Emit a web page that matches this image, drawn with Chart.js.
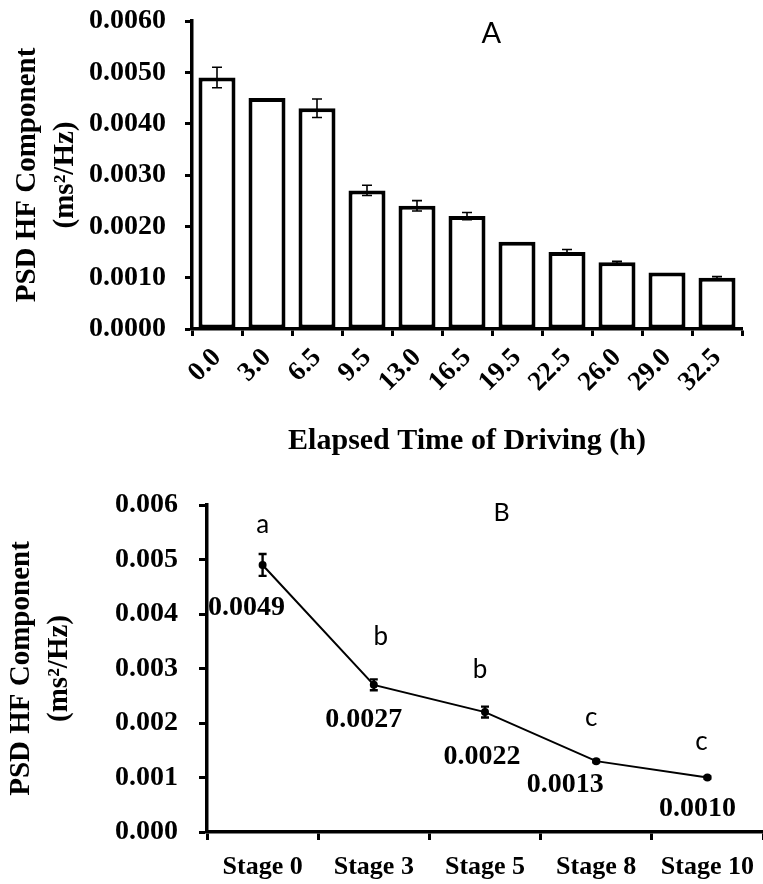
<!DOCTYPE html>
<html>
<head>
<meta charset="utf-8">
<script src="https://cdn.jsdelivr.net/npm/chart.js@4"></script>
<style>
  body { margin: 0; background: #fff; overflow: hidden; }
  #chartA { position: absolute; left: 0; top: 0; }
  #chartB { position: absolute; left: 0; top: 470px; }
</style>
</head>
<body>
<canvas id="chartA" width="763" height="470"></canvas>
<canvas id="chartB" width="763" height="414"></canvas>
<script>
// panel A: elapsed driving time (h)
const hoursA = ['0.0', '3.0', '6.5', '9.5', '13.0', '16.5', '19.5', '22.5', '26.0', '29.0', '32.5'];
const psdA = [0.0049, 0.0045, 0.0043, 0.0027, 0.0024, 0.0022, 0.0017, 0.0015, 0.0013, 0.0011, 0.0010];
const errA = [0.0002, 0, 0.00018, 0.0001, 0.0001, 0.00007, 0, 0.00005, 0.00002, 0, 0.00002];

// panel B: driving stages
const stagesB = ['Stage 0', 'Stage 3', 'Stage 5', 'Stage 8', 'Stage 10'];
const psdB = [0.0049, 0.0027, 0.0022, 0.0013, 0.0010];
const errB = [0.0002, 0.0001, 0.0001, 0.00002, 0.00002];
const groupsB = ['a', 'b', 'b', 'c', 'c'];

const SERIF = '"Liberation Serif", "Times New Roman", serif';
const SANS = 'Lato, "Open Sans", sans-serif';

// fixed axis sizes so the plot area lands where the original one is
function fixY(width) {
    return s => { s.width = width; s.paddingTop = 0; s.paddingBottom = 0; };
}
function fixX(height) {
    return s => { s.height = height; s.paddingLeft = 0; s.paddingRight = 0; };
}

// error bars drawn from the dataset values
const errorBars = {
    id: 'errorBars',
    afterDatasetsDraw(chart, args, opts) {
        const ctx = chart.ctx;
        const y = chart.scales.y;
        const meta = chart.getDatasetMeta(0);
        const values = chart.data.datasets[0].data;
        ctx.save();
        ctx.strokeStyle = '#000';
        ctx.lineWidth = opts.lineWidth;
        opts.errors.forEach((e, i) => {
            if (!e) return;
            const px = meta.data[i].x;
            const top = y.getPixelForValue(values[i] + e);
            const bot = y.getPixelForValue(values[i] - e);
            ctx.beginPath();
            ctx.moveTo(px, top); ctx.lineTo(px, bot);
            ctx.moveTo(px - opts.cap, top); ctx.lineTo(px + opts.cap, top);
            ctx.moveTo(px - opts.cap, bot); ctx.lineTo(px + opts.cap, bot);
            ctx.stroke();
        });
        ctx.restore();
    }
};

// panel letter (A / B)
const panelLetter = {
    id: 'panelLetter',
    afterDraw(chart, args, opts) {
        const { ctx, chartArea } = chart;
        ctx.save();
        ctx.fillStyle = '#000';
        ctx.font = opts.font;
        ctx.textAlign = 'center';
        ctx.textBaseline = 'middle';
        ctx.fillText(opts.text, chartArea.left + chartArea.width * opts.fx, chartArea.top + opts.dy);
        ctx.restore();
    }
};

// group letters above and value labels below points of panel B
const pointNotes = {
    id: 'pointNotes',
    afterDatasetsDraw(chart, args, opts) {
        const ctx = chart.ctx;
        const meta = chart.getDatasetMeta(0);
        const values = chart.data.datasets[0].data;
        ctx.save();
        ctx.fillStyle = '#000';
        ctx.textAlign = 'center';
        ctx.textBaseline = 'middle';
        meta.data.forEach((pt, i) => {
            ctx.font = opts.letterFont;
            ctx.fillText(opts.letters[i], pt.x + opts.letterOff[i][0], pt.y + opts.letterOff[i][1]);
            ctx.font = opts.valueFont;
            ctx.fillText(values[i].toFixed(4), pt.x + opts.valueOff[i][0], pt.y + opts.valueOff[i][1]);
        });
        ctx.restore();
    }
};

Chart.defaults.color = '#000';

// ---------- chart A ----------
new Chart(document.getElementById('chartA'), {
    type: 'bar',
    data: {
        labels: hoursA,
        datasets: [{
            data: psdA,
            backgroundColor: '#fff',
            borderColor: '#000',
            borderWidth: 4,
            borderSkipped: false,
            barPercentage: 0.74,
            categoryPercentage: 1
        }]
    },
    options: {
        responsive: false,
        animation: false,
        layout: { autoPadding: false, padding: { top: 21, right: 21, bottom: 0, left: 0 } },
        plugins: {
            legend: { display: false },
            tooltip: { enabled: false },
            errorBars: { errors: errA, cap: 5, lineWidth: 1.6 },
            panelLetter: { text: 'A', fx: 0.544, dy: 13, font: '29px ' + SANS }
        },
        scales: {
            x: {
                afterFit: fixX(141),
                border: { color: '#000', width: 3.5 },
                grid: { offset: true, drawOnChartArea: false, tickLength: 7, tickColor: '#000', tickWidth: 3 },
                ticks: {
                    autoSkip: false,
                    maxRotation: 45,
                    minRotation: 45,
                    padding: 6,
                    font: { family: SERIF, size: 27, weight: 'bold' }
                },
                title: {
                    display: true,
                    text: 'Elapsed Time of Driving (h)',
                    font: { family: SERIF, size: 30, weight: 'bold' },
                    padding: { top: 0, bottom: 11 }
                }
            },
            y: {
                min: 0,
                max: 0.006,
                afterFit: fixY(192),
                border: { color: '#000', width: 3.5 },
                grid: { drawOnChartArea: false, tickLength: 7, tickColor: '#000', tickWidth: 3 },
                ticks: {
                    stepSize: 0.001,
                    padding: 19,
                    font: { family: SERIF, size: 28, weight: 'bold' },
                    callback: v => v.toFixed(4)
                },
                title: {
                    display: true,
                    text: ['PSD HF Component', '(ms\u00B2/Hz)'],
                    font: { family: SERIF, size: 29, weight: 'bold', lineHeight: 1.3 },
                    padding: { top: 9, bottom: 0 }
                }
            }
        }
    },
    plugins: [errorBars, panelLetter]
});

// ---------- chart B ----------
new Chart(document.getElementById('chartB'), {
    type: 'line',
    data: {
        labels: stagesB,
        datasets: [{
            data: psdB,
            borderColor: '#000',
            borderWidth: 2,
            pointRadius: 3,
            pointBackgroundColor: '#000',
            pointBorderColor: '#000',
            tension: 0
        }]
    },
    options: {
        responsive: false,
        animation: false,
        layout: { autoPadding: false, padding: { top: 35, right: 0, bottom: 0, left: 0 } },
        plugins: {
            legend: { display: false },
            tooltip: { enabled: false },
            errorBars: { errors: errB, cap: 4, lineWidth: 2.4 },
            panelLetter: { text: 'B', fx: 0.53, dy: 8, font: '25px ' + SANS },
            pointNotes: {
                letters: groupsB,
                letterFont: '26px ' + SANS,
                valueFont: 'bold 28px ' + SERIF,
                letterOff: [[0, -40], [7, -48], [-5, -42], [-5, -44], [-6, -36]],
                valueOff: [[-16, 43], [-10, 35], [-3, 45], [-31, 24], [-10, 31]]
            }
        },
        scales: {
            x: {
                offset: true,
                afterFit: fixX(52),
                border: { color: '#000', width: 3.5 },
                grid: { offset: true, drawOnChartArea: false, tickLength: 8, tickColor: '#000', tickWidth: 3 },
                ticks: { maxRotation: 0, autoSkip: false, padding: 12, font: { family: SERIF, size: 26, weight: 'bold' } }
            },
            y: {
                min: 0,
                max: 0.006,
                afterFit: fixY(207),
                border: { color: '#000', width: 3.5 },
                grid: { drawOnChartArea: false, tickLength: 8, tickColor: '#000', tickWidth: 3 },
                ticks: {
                    stepSize: 0.001,
                    padding: 21,
                    font: { family: SERIF, size: 28, weight: 'bold' },
                    callback: v => v.toFixed(3)
                },
                title: {
                    display: true,
                    text: ['PSD HF Component', '(ms\u00B2/Hz)'],
                    font: { family: SERIF, size: 29, weight: 'bold', lineHeight: 1.3 },
                    padding: { top: 3, bottom: 0 }
                }
            }
        }
    },
    plugins: [errorBars, pointNotes, panelLetter]
});
</script>
</body>
</html>
